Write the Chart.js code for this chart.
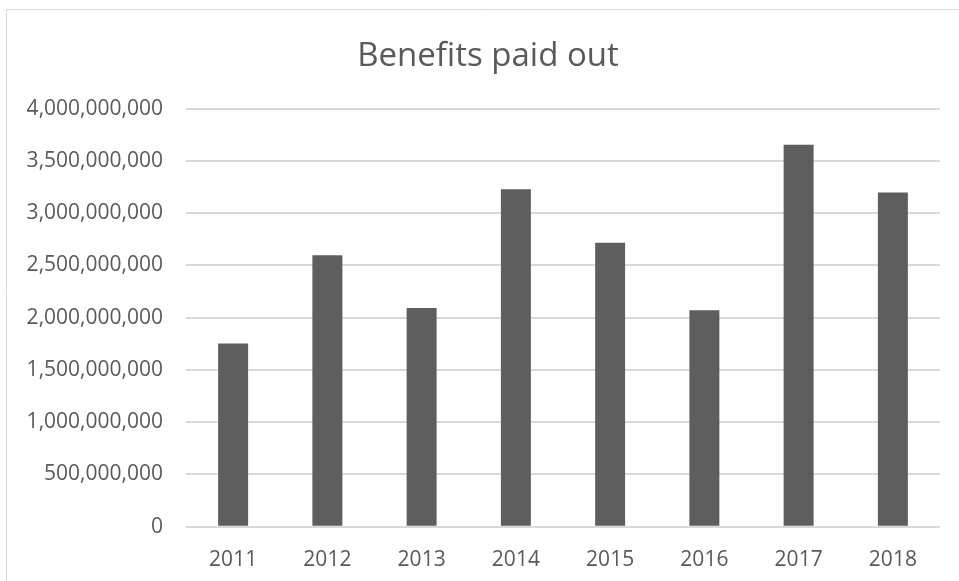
<!DOCTYPE html>
<html>
<head>
<meta charset="utf-8">
<script src="https://cdn.jsdelivr.net/npm/chart.js@4"></script>
<style>
  html, body { margin:0; padding:0; background:#fff; }
  #wrap { width:959px; height:581px; position:relative; }
</style>
</head>
<body>
<div id="wrap"><canvas id="benefitsChart" width="959" height="581"></canvas></div>
<script>
const years = ['2011','2012','2013','2014','2015','2016','2017','2018'];
const benefitsPaid = [1752000000, 2598000000, 2092000000, 3228000000, 2717000000, 2071000000, 3653000000, 3197000000];
const yTicks = [0, 500000000, 1000000000, 1500000000, 2000000000, 2500000000, 3000000000, 3500000000, 4000000000];

const textGray = '#595959';
const gridGray = '#d9d9d9';

// light frame round the chart, open on the right and bottom edges
const framePlugin = {
  id:'frame',
  beforeDraw(chart){
    const ctx = chart.ctx;
    ctx.save();
    ctx.strokeStyle = gridGray;
    ctx.lineWidth = 1;
    ctx.beginPath();
    ctx.moveTo(6.5, chart.height + 5);
    ctx.lineTo(6.5, 9.5);
    ctx.lineTo(chart.width + 5, 9.5);
    ctx.stroke();
    ctx.restore();
  }
};

new Chart(document.getElementById('benefitsChart'),{
  type:'bar',
  data:{
    labels: years,
    datasets:[{
      label:'Benefits paid out',
      data: benefitsPaid,
      backgroundColor:'#5e5e5e',
      borderWidth:0,
      categoryPercentage:1,
      barPercentage:0.318
    }]
  },
  options:{
    responsive:false,
    animation:false,
    layout:{ padding:{ top:0, right:0, bottom:0, left:17 } },
    plugins:{
      legend:{ display:false },
      tooltip:{ enabled:false },
      title:{
        display:true,
        text:'Benefits paid out',
        color: textGray,
        font:{ family:'"Open Sans"', size:33, weight:'normal' },
        padding:{ top:37, bottom:32 }
      }
    },
    scales:{
      x:{
        grid:{ display:false, drawTicks:false },
        border:{ display:false },
        ticks:{ color:textGray, font:{ family:'"Open Sans"', size:21 }, padding:21, maxRotation:0 },
        afterFit(scale){ scale.height = 54.3; }
      },
      y:{
        min:0,
        max:4000000000,
        afterBuildTicks(scale){ scale.ticks = yTicks.map(v=>({value:v})); },
        grid:{ color:gridGray, lineWidth:2, drawTicks:false },
        border:{ display:false },
        ticks:{
          color:textGray,
          font:{ family:'"Open Sans"', size:21 },
          padding:23,
          callback:v=>v.toLocaleString('en-US')
        },
        afterFit(scale){ scale.width = 169; }
      },
      // empty strip on the right so the plot stops short of the edge
      yRight:{
        type:'linear',
        position:'right',
        grid:{ display:false, drawTicks:false },
        border:{ display:false },
        ticks:{ display:false },
        afterFit(scale){ scale.width = 19; }
      }
    }
  },
  plugins:[framePlugin]
});
</script>
</body>
</html>
